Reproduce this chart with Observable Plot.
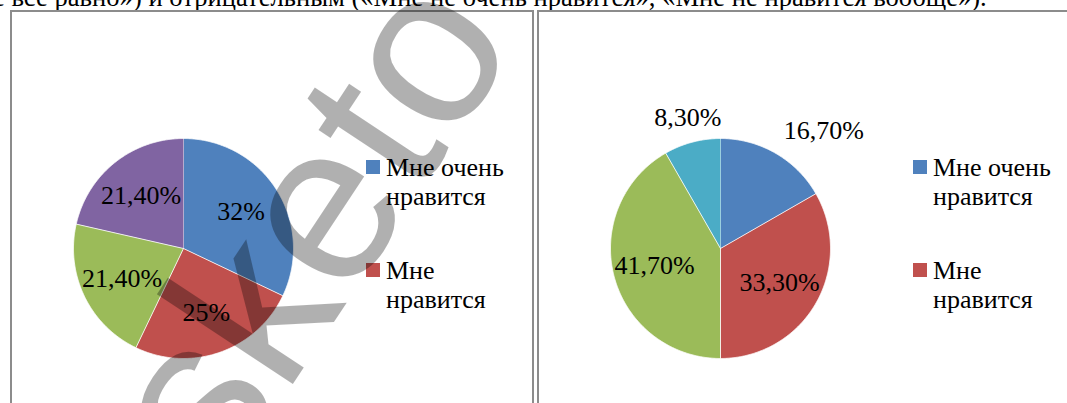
<!DOCTYPE html>
<html><head><meta charset="utf-8">
<script src="https://cdn.jsdelivr.net/npm/d3@7"></script>
<script src="https://cdn.jsdelivr.net/npm/@observablehq/plot@0.6"></script>
<style>
html,body{margin:0;padding:0;background:#fff;}
#page{position:relative;width:1067px;height:403px;overflow:hidden;font-family:"Liberation Serif","Tinos","Times New Roman",serif;color:#000;}
.para{position:absolute;left:-7px;top:-16px;font-size:26.6px;line-height:27px;white-space:nowrap;}
.frame{position:absolute;top:10px;height:500px;border:2px solid #8c8c8c;border-bottom:none;box-sizing:border-box;}
.chart{position:absolute;}
.legend{position:absolute;font-size:26px;line-height:28.6px;}
.entry{display:flex;align-items:flex-start;margin-bottom:46px;}
.sw{width:14px;height:14px;margin-top:6px;margin-right:6px;flex:none;}
.lt{width:135px;}
.wm{position:absolute;pointer-events:none;}
</style></head>
<body><div id="page"></div>
<script>
const categories = ["Мне очень нравится","Мне нравится","Мне все равно","Мне не очень нравится","Мне не нравится вообще"];
const colors = ["#4F81BD","#C0504D","#9BBB59","#8064A2","#4BACC6"];
const leftValues = [32, 25, 21.4, 21.4, 0];
const rightValues = [16.7, 33.3, 41.7, 0, 8.3];
const leftLabels = ["32%", "25%", "21,40%", "21,40%", ""];
const rightLabels = ["16,70%", "33,30%", "41,70%", "", "8,30%"];
const legendCategories = categories.slice(0, 2);
const paragraph = "е все равно») и отрицательным («Мне не очень нравится», «Мне не нравится вообще»).";
const watermark = ["sketo"];

const SERIF = "Liberation Serif, Tinos, Times New Roman, serif";
const page = document.getElementById("page");

function add(tag, cls, style, text) {
  const el = document.createElement(tag);
  if (cls) el.className = cls;
  if (style) Object.assign(el.style, style);
  if (text != null) el.textContent = text;
  page.appendChild(el);
  return el;
}

add("div", "para", null, paragraph);
add("div", "frame", {left: "10px", width: "524px"});
add("div", "frame", {left: "537px", width: "600px"});

function pieData(values, labels) {
  const total = d3.sum(values);
  let acc = 0;
  const pts = [], labs = [];
  values.forEach((v, i) => {
    if (v <= 0) return;
    const a0 = acc / total * 2 * Math.PI;
    const a1 = (acc + v) / total * 2 * Math.PI;
    acc += v;
    pts.push({cat: categories[i], x: 0, y: 0});
    const n = Math.max(2, Math.ceil((a1 - a0) / (Math.PI / 360)));
    for (let k = 0; k <= n; k++) {
      const a = a0 + (a1 - a0) * k / n;
      pts.push({cat: categories[i], x: Math.sin(a), y: Math.cos(a)});
    }
    const am = (a0 + a1) / 2;
    const outside = v / total < 0.2;
    const f = outside ? 1.15 : 0.62;
    const s = Math.sin(am), c = Math.cos(am);
    labs.push({
      text: labels[i], x: f * s, y: f * c, outside,
      anchor: !outside ? "middle" : (s > 0.3 ? "start" : (s < -0.3 ? "end" : "middle")),
      line: !outside ? "middle" : (c > 0.3 ? "bottom" : (c < -0.3 ? "top" : "middle"))
    });
  });
  return {pts, labs};
}

function drawPie(values, labels, left, top) {
  const W = 340, H = 300, cx = 170, cy = 150, r = 110;
  const {pts, labs} = pieData(values, labels);
  const textOpts = {x: "x", y: "y", text: "text", fontSize: 26, fontFamily: SERIF, fill: "black"};
  const marks = [
    Plot.line(pts, {x: "x", y: "y", z: "cat", fill: "cat", stroke: "white", strokeWidth: 0.8, curve: "linear"})
  ];
  for (const anchor of ["start", "middle", "end"]) {
    for (const line of ["top", "middle", "bottom"]) {
      const subset = labs.filter(d => d.anchor === anchor && d.line === line);
      if (subset.length) marks.push(Plot.text(subset, {...textOpts, textAnchor: anchor, lineAnchor: line}));
    }
  }
  const chart = Plot.plot({
    width: W, height: H, margin: 0,
    x: {domain: [-1, 1], range: [cx - r, cx + r], axis: null},
    y: {domain: [-1, 1], range: [cy + r, cy - r], axis: null},
    color: {domain: categories, range: colors},
    style: {overflow: "visible", background: "transparent", fontFamily: SERIF},
    marks
  });
  chart.classList.add("chart");
  chart.style.left = left + "px";
  chart.style.top = top + "px";
  page.appendChild(chart);
}

drawPie(leftValues, leftLabels, 182.5 - 170, 248 - 150);
drawPie(rightValues, rightLabels, 720 - 170, 248 - 150);

function drawLegend(left, top) {
  const lg = add("div", "legend", {left: left + "px", top: top + "px"});
  legendCategories.forEach(cat => {
    const e = document.createElement("div");
    e.className = "entry";
    const sw = document.createElement("div");
    sw.className = "sw";
    sw.style.background = colors[categories.indexOf(cat)];
    const t = document.createElement("div");
    t.className = "lt";
    t.textContent = cat;
    e.appendChild(sw); e.appendChild(t);
    lg.appendChild(e);
  });
}
drawLegend(366, 154);
drawLegend(913, 154);

// watermark: baseline starts at the bottom-left corner of a tiny frame
const wm = Plot.plot({
  width: 10, height: 10, margin: 0,
  style: {overflow: "visible", background: "transparent"},
  marks: [Plot.text(watermark, {frameAnchor: "bottom-left", text: d => d, rotate: -56.5, textAnchor: "start", lineAnchor: "bottom", fontSize: 225, fontFamily: "Liberation Sans, Arimo, Arial, sans-serif", fill: "black", fillOpacity: 0.31})]
});
wm.classList.add("wm");
wm.style.left = "222px";
wm.style.top = (490 - 10) + "px";
page.appendChild(wm);
</script>
</body></html>
